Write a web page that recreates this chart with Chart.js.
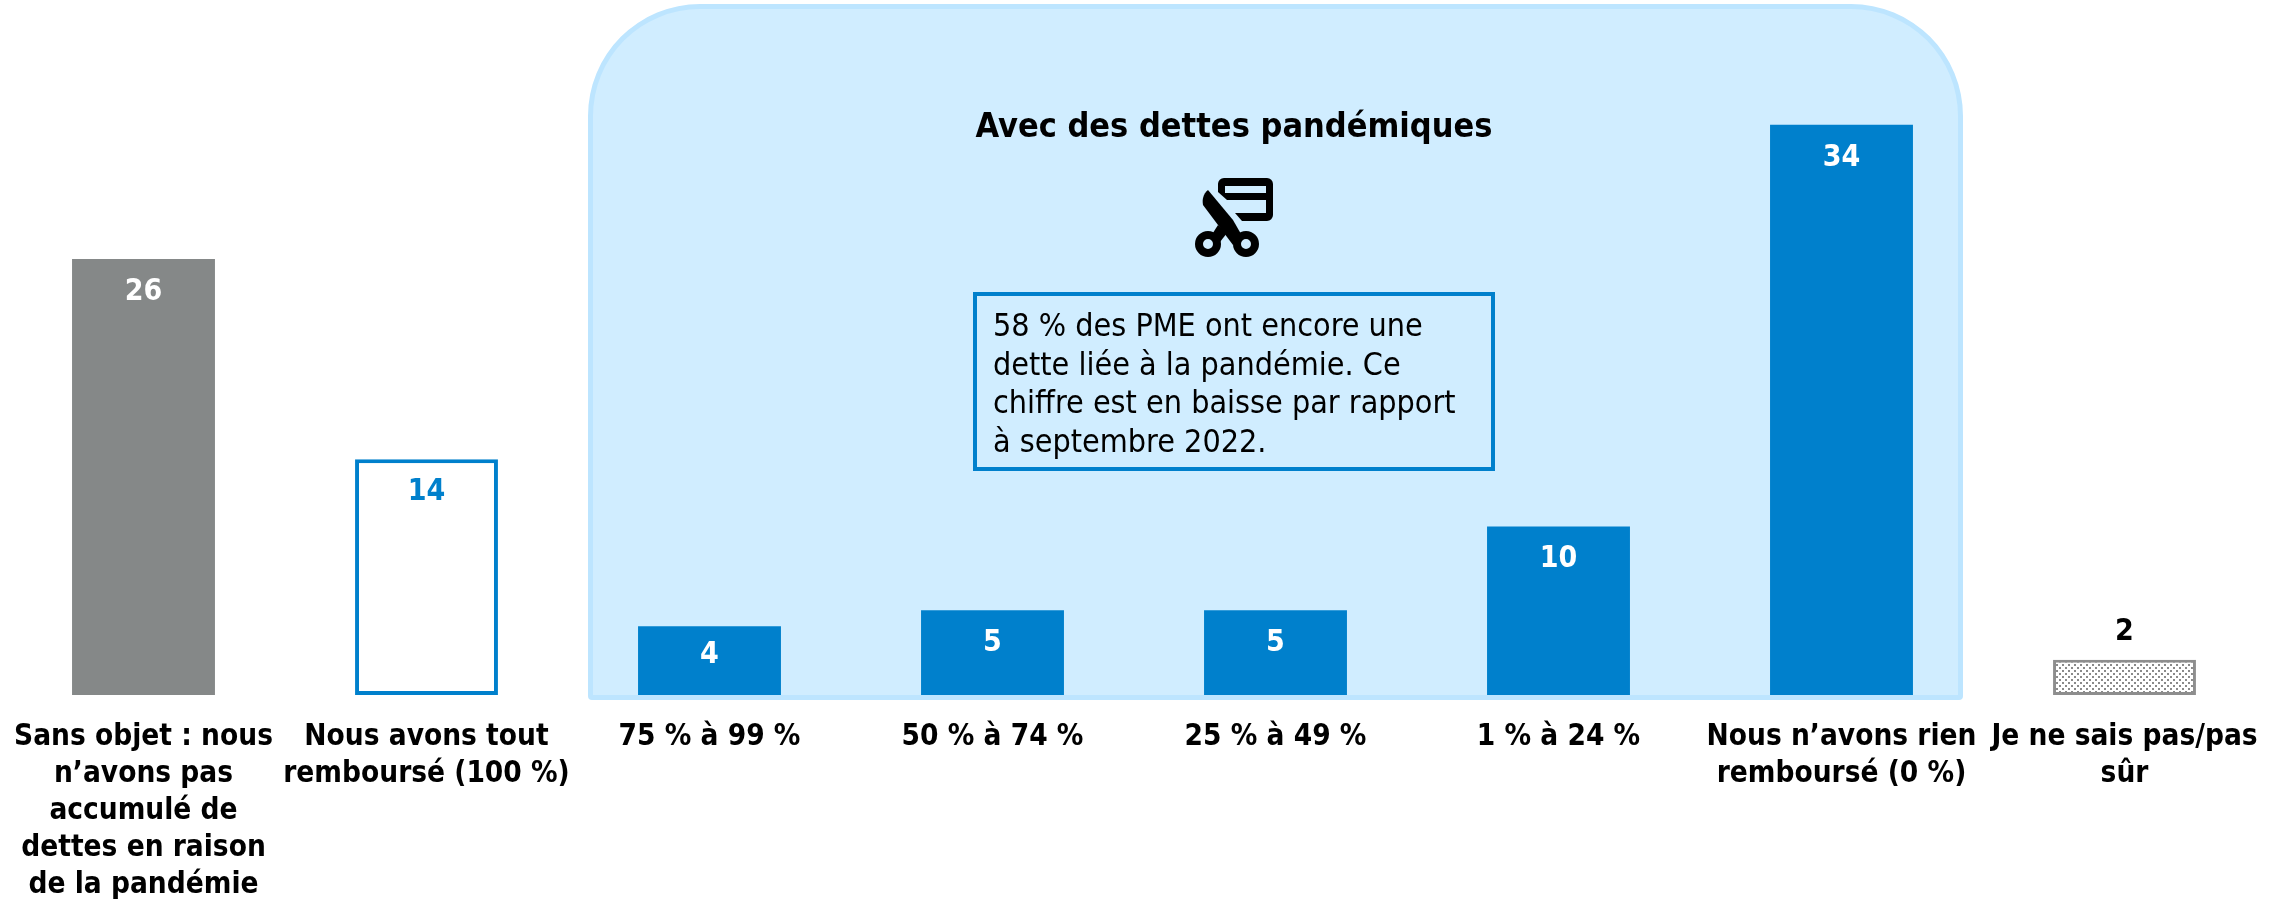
<!DOCTYPE html>
<html lang="fr"><head><meta charset="utf-8">
<script src="https://cdn.jsdelivr.net/npm/chart.js@4"></script>
<style>
html,body{margin:0;padding:0;background:#fff;width:2287px;height:900px;overflow:hidden}
body{position:relative;font-family:"DejaVu Sans Condensed","DejaVu Sans",sans-serif}
#panel{position:absolute;left:588px;top:4px;width:1375px;height:696px;box-sizing:border-box;background:#D0EDFF;border:5px solid #BDE5FF;border-radius:112px 112px 4px 4px}
canvas{position:absolute;left:0;top:0}
#title{position:absolute;left:934px;width:600px;top:103px;text-align:center;font-weight:bold;font-size:34px;line-height:44px;color:#000;white-space:nowrap}
#note{position:absolute;left:973px;top:292px;width:522px;height:179px;box-sizing:border-box;border:4px solid #0080CC;padding:10px 16px;font-size:32px;line-height:38.5px;color:#000;white-space:nowrap}
#icon{position:absolute;left:1190px;top:173px}
</style></head><body>
<div id="panel"></div>
<canvas id="c" width="2287" height="900"></canvas>
<div id="title">Avec des dettes pandémiques</div>
<svg id="icon" width="90" height="90" viewBox="1190 173 90 90">
<path fill-rule="evenodd" fill="#000" d="M1218 184a6 6 0 0 1 6-6h43a6 6 0 0 1 6 6v31a6 6 0 0 1-6 6h-25l-7-8h31v-13h-39l-9-8zM1225 186h41v7h-41z"/>
<path fill="#000" d="M1208 190c-5 4-6 10-5 15l15 20 15 20 8-11-8-14-25-30z"/>
<path fill="#000" d="M1211 236l7-11 9 8-7 9z"/>
<circle cx="1208" cy="244" r="9" fill="none" stroke="#000" stroke-width="8"/>
<circle cx="1246" cy="244" r="9" fill="none" stroke="#000" stroke-width="8"/>
</svg>
<div id="note">58 % des PME ont encore une<br>dette liée à la pandémie. Ce<br>chiffre est en baisse par rapport<br>à septembre 2022.</div>
<script>
const categories = [
  ["Sans objet : nous","n’avons pas","accumulé de","dettes en raison","de la pandémie"],
  ["Nous avons tout","remboursé (100 %)"],
  ["75 % à 99 %"],
  ["50 % à 74 %"],
  ["25 % à 49 %"],
  ["1 % à 24 %"],
  ["Nous n’avons rien","remboursé (0 %)"],
  ["Je ne sais pas/pas","sûr"]
];
const values = [26, 14.05, 4.1, 5.05, 5.05, 10.05, 34, 2.1];

const FONT = '"DejaVu Sans Condensed","DejaVu Sans",sans-serif';
const BLUE = '#0080CC', GREY = '#858888';

function dots(){
  const p = document.createElement('canvas'); p.width = 6; p.height = 6;
  const x = p.getContext('2d');
  x.fillStyle = '#FFFFFF'; x.fillRect(0,0,6,6);
  x.fillStyle = '#8A8A8A'; x.fillRect(1,1,2,2); x.fillRect(4,4,2,2);
  return document.getElementById('c').getContext('2d').createPattern(p,'repeat');
}
const pattern = dots();
const fills   = [GREY,'#FFFFFF',BLUE,BLUE,BLUE,BLUE,BLUE,pattern];
const borders = [GREY,BLUE,BLUE,BLUE,BLUE,BLUE,BLUE,'#8E8E8E'];
const widths  = [0,4,0,0,0,0,0,3];
const labelColors = ['#FFFFFF',BLUE,'#FFFFFF','#FFFFFF','#FFFFFF','#FFFFFF','#FFFFFF','#000000'];

const valueLabels = {
  id:'valueLabels',
  afterDatasetsDraw(chart){
    const ctx = chart.ctx, meta = chart.getDatasetMeta(0);
    ctx.save();
    ctx.font = 'bold 30px '+FONT;
    ctx.textAlign = 'center'; ctx.textBaseline = 'middle';
    meta.data.forEach((bar,i)=>{
      const inside = values[i] > 3;
      ctx.fillStyle = labelColors[i];
      ctx.fillText(String(Math.round(values[i])), bar.x, inside ? bar.y + (values[i] < 5 ? 29 : 33) : bar.y - 28);
    });
    ctx.restore();
  }
};

new Chart(document.getElementById('c'),{
  type:'bar',
  data:{labels:categories,datasets:[{
    data:values,backgroundColor:fills,borderColor:borders,borderWidth:widths,borderSkipped:false,
    barPercentage:0.505,categoryPercentage:1
  }]},
  plugins:[valueLabels],
  options:{
    responsive:false,animation:false,
    layout:{padding:{left:2,right:21,top:0,bottom:0}},
    plugins:{legend:{display:false},tooltip:{enabled:false},title:{display:false}},
    scales:{
      y:{display:false,min:0,max:41.44},
      x:{
        grid:{display:false},border:{display:false},
        afterFit(s){s.height=205;s.paddingLeft=0;s.paddingRight=0;},
        ticks:{autoSkip:false,maxRotation:0,minRotation:0,padding:16,color:'#000',
          font:{family:FONT,weight:'bold',size:29.5,lineHeight:1.25}}
      }
    }
  }
});
</script>
</body></html>
